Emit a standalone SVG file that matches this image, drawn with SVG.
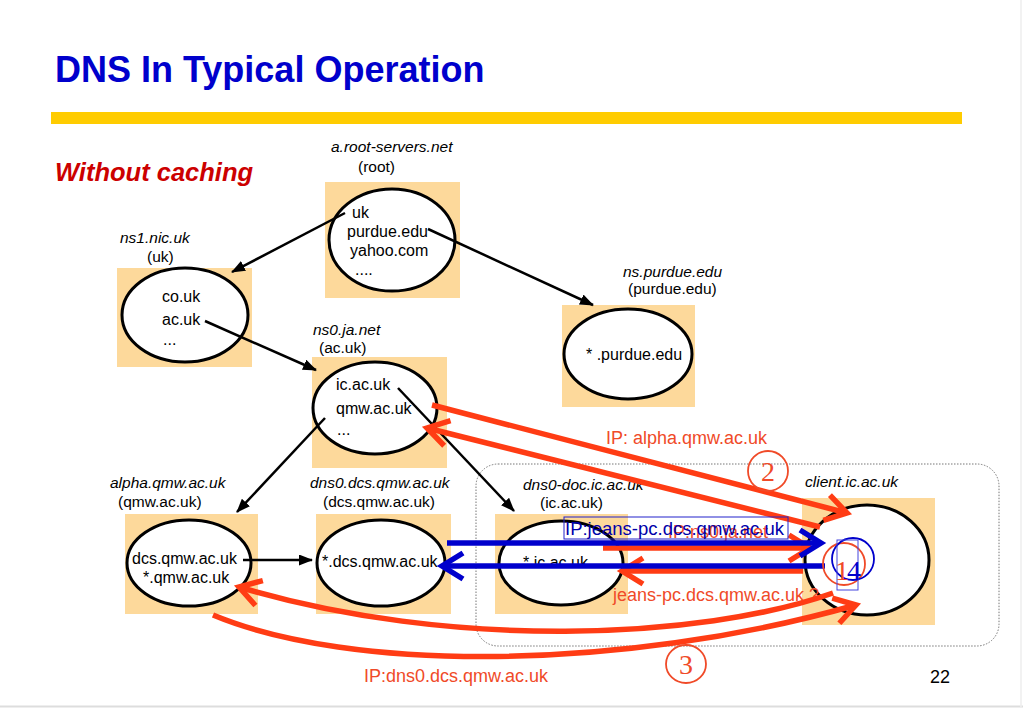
<svg xmlns="http://www.w3.org/2000/svg" width="1023" height="708" viewBox="0 0 1023 708">
<defs>
<style>
.box{fill:#fdd99b}
.ell{fill:#fff;stroke:#000;stroke-width:3}
.t{font-family:"Liberation Sans",Arial,sans-serif;font-size:16px;fill:#000}
.lab{font-family:"Liberation Sans",Arial,sans-serif;font-size:15.5px;fill:#000}
.it{font-style:italic}
.blk{stroke:#000;stroke-width:2.5;fill:none;marker-end:url(#bh)}
.red{stroke:#ff3c14;stroke-width:5.5;fill:none;marker-end:url(#rh)}
.blu{stroke:#0000cc;stroke-width:5.5;fill:none;marker-end:url(#uh)}
.rt{font-family:"Liberation Sans",Arial,sans-serif;font-size:18px;fill:#f04a28}
.num{font-family:"Liberation Serif","Times New Roman",serif;font-size:28px}
</style>
<marker id="bh" markerUnits="userSpaceOnUse" viewBox="0 0 14 11" markerWidth="14" markerHeight="11" refX="13" refY="5.5" orient="auto"><path d="M0,0 L14,5.5 L0,11 z" fill="#000"/></marker>
<marker id="rh" markerUnits="userSpaceOnUse" viewBox="0 0 32 32" markerWidth="32" markerHeight="32" refX="26" refY="16" orient="auto"><path d="M5,3 L26,16 L5,29" fill="none" stroke="#ff3c14" stroke-width="5.5"/></marker>
<marker id="uh" markerUnits="userSpaceOnUse" viewBox="0 0 32 32" markerWidth="32" markerHeight="32" refX="26" refY="16" orient="auto"><path d="M5,3 L26,16 L5,29" fill="none" stroke="#0000cc" stroke-width="5.5"/></marker>
</defs>
<rect x="0" y="0" width="1023" height="708" fill="#fff"/>
<line x1="0" y1="706.5" x2="1023" y2="706.5" stroke="#dddddd" stroke-width="2"/>
<line x1="1021" y1="0" x2="1021" y2="708" stroke="#eeeeee" stroke-width="1.5"/>

<g id="title">
<text x="55" y="82" font-family="'Liberation Sans',Arial,sans-serif" font-weight="bold" font-size="36" fill="#0000cc">DNS In Typical Operation</text>
<rect x="51" y="112" width="911" height="12" fill="#ffcc00"/>
<text x="55" y="181" font-family="'Liberation Sans',Arial,sans-serif" font-weight="bold" font-style="italic" font-size="25.5" fill="#cc0000">Without caching</text>
</g>

<rect x="476" y="464" width="523" height="182" rx="22" fill="none" stroke="#777" stroke-width="1" stroke-dasharray="1.5,1.5"/>

<g id="root">
<rect class="box" x="325" y="182" width="135" height="116"/>
<ellipse class="ell" cx="392" cy="240" rx="63" ry="51"/>
<text class="lab it" x="331" y="152">a.root-servers.net</text>
<text class="lab" x="358" y="172">(root)</text>
<text class="t" x="352" y="218">uk</text>
<text class="t" x="347" y="237">purdue.edu</text>
<text class="t" x="350" y="256">yahoo.com</text>
<text class="t" x="355" y="275">....</text>
</g>

<g id="ns1">
<rect class="box" x="117" y="268" width="135" height="99"/>
<ellipse class="ell" cx="185" cy="315" rx="63" ry="47"/>
<text class="lab it" x="120" y="243">ns1.nic.uk</text>
<text class="lab" x="147" y="262">(uk)</text>
<text class="t" x="162" y="302">co.uk</text>
<text class="t" x="162" y="325">ac.uk</text>
<text class="t" x="163" y="345">...</text>
</g>

<g id="ns0">
<rect class="box" x="312" y="357" width="135" height="111"/>
<ellipse class="ell" cx="375" cy="408" rx="62" ry="46"/>
<text class="lab it" x="313" y="335">ns0.ja.net</text>
<text class="lab" x="319" y="353">(ac.uk)</text>
<text class="t" x="336" y="390">ic.ac.uk</text>
<text class="t" x="336" y="414">qmw.ac.uk</text>
<text class="t" x="337" y="435">...</text>
</g>

<g id="purdue">
<rect class="box" x="562" y="305" width="133" height="102"/>
<ellipse class="ell" cx="628" cy="354" rx="64" ry="45"/>
<text class="lab it" x="623" y="277">ns.purdue.edu</text>
<text class="lab" x="628" y="294">(purdue.edu)</text>
<text class="t" x="586" y="360">* .purdue.edu</text>
</g>

<g id="alpha">
<rect class="box" x="125" y="514" width="133" height="100"/>
<ellipse class="ell" cx="189" cy="563" rx="62" ry="43"/>
<text class="lab it" x="110" y="488">alpha.qmw.ac.uk</text>
<text class="lab" x="118" y="507">(qmw.ac.uk)</text>
<text class="t" x="132" y="564">dcs.qmw.ac.uk</text>
<text class="t" x="143" y="583">*.qmw.ac.uk</text>
</g>

<g id="dns0dcs">
<rect class="box" x="316" y="514" width="135" height="100"/>
<ellipse class="ell" cx="381" cy="563" rx="64" ry="43"/>
<text class="lab it" x="310" y="488">dns0.dcs.qmw.ac.uk</text>
<text class="lab" x="323" y="507">(dcs.qmw.ac.uk)</text>
<text class="t" x="322" y="567">*.dcs.qmw.ac.uk</text>
</g>

<g id="dns0doc">
<rect class="box" x="495" y="514" width="133" height="100"/>
<ellipse class="ell" cx="561" cy="563" rx="62" ry="42"/>
<text class="lab it" x="523" y="490">dns0-doc.ic.ac.uk</text>
<text class="lab" x="540" y="508">(ic.ac.uk)</text>
<text class="t" x="523" y="568">*.ic.ac.uk</text>
</g>

<g id="client">
<rect class="box" x="802" y="498" width="133" height="127"/>
<ellipse class="ell" cx="867" cy="560" rx="62" ry="55"/>
<text class="lab it" x="805" y="487">client.ic.ac.uk</text>
</g>

<g id="connectors">
<line class="blk" x1="345" y1="213" x2="232" y2="272"/>
<line class="blk" x1="428" y1="229" x2="593" y2="305"/>
<line class="blk" x1="205" y1="321" x2="316" y2="370"/>
<line class="blk" x1="325" y1="418" x2="237" y2="512"/>
<line class="blk" x1="398" y1="388" x2="514" y2="511"/>
<line class="blk" x1="243" y1="560" x2="312" y2="560"/>

<line class="red" x1="432" y1="405" x2="847" y2="513"/>
<line class="red" x1="820" y1="527" x2="427" y2="428"/>
<text class="rt" x="606" y="444">IP: alpha.qmw.ac.uk</text>

<text class="rt" x="668" y="538">IP:ns0.ja.net</text>
<line class="red" x1="603" y1="548" x2="810" y2="548"/>
<line class="red" x1="803" y1="571" x2="622" y2="571"/>
<text class="rt" x="613" y="601">jeans-pc.dcs.qmw.ac.uk ?</text>

<line class="blu" x1="447" y1="543" x2="821" y2="543"/>
<line class="blu" x1="825" y1="566" x2="442" y2="566"/>
<rect x="564" y="517" width="224" height="22" fill="none" stroke="#2222cc" stroke-width="1"/>
<text x="565" y="535" font-family="'Liberation Sans',Arial,sans-serif" font-size="18.5" fill="#0000aa">IP:jeans-pc.dcs.qmw.ac.uk</text>

<path class="red" d="M833,593 C700,640 450,650 239,587"/>
<path class="red" d="M213,615 C350,672 620,672 856,605"/>
<text class="rt" x="364" y="682">IP:dns0.dcs.qmw.ac.uk</text>

<circle cx="768" cy="471" r="20" fill="none" stroke="#f04a28" stroke-width="1.8"/>
<text class="num" x="768" y="481" text-anchor="middle" fill="#f04a28">2</text>
<ellipse cx="686" cy="664" rx="20" ry="19" fill="none" stroke="#f04a28" stroke-width="1.8"/>
<text class="num" x="686" y="674" text-anchor="middle" fill="#f04a28">3</text>

<circle cx="844" cy="564" r="21" fill="none" stroke="#f04a28" stroke-width="1.8"/>
<circle cx="853" cy="559" r="21" fill="none" stroke="#0000cc" stroke-width="1.8"/>
<rect x="837" y="540" width="21" height="50" fill="none" stroke="#4444dd" stroke-width="1"/>
<text class="num" x="835" y="580" fill="#f04a28">1</text>
<text class="num" x="847" y="580" fill="#0000cc">4</text>
</g>

<text x="930" y="683" font-family="'Liberation Sans',Arial,sans-serif" font-size="18" fill="#000">22</text>
</svg>
